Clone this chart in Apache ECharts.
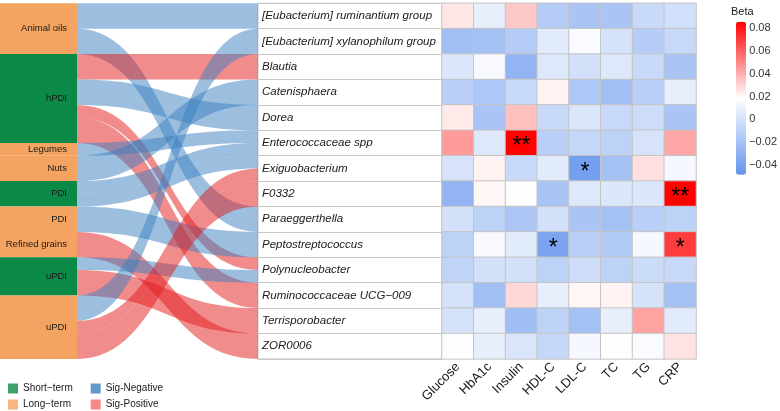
<!DOCTYPE html>
<html><head><meta charset="utf-8">
<script src="https://cdn.jsdelivr.net/npm/echarts@6/dist/echarts.min.js"></script>
<style>html,body{margin:0;padding:0;background:#fff}#c{width:780px;height:411px}</style>
</head><body><div id="c"></div>
<script>
// ---------- data ----------
const dietNames = ['Animal oils','hPDI','Legumes','Nuts','PDI','PDI','Refined grains','uPDI','uPDI'];
const dietTerms = ['Long','Short','Long','Long','Short','Long','Long','Short','Long'];
const bacteria = ['[Eubacterium] ruminantium group','[Eubacterium] xylanophilum group','Blautia','Catenisphaera','Dorea',
  'Enterococcaceae spp','Exiguobacterium','F0332','Paraeggerthella','Peptostreptococcus','Polynucleobacter',
  'Ruminococcaceae UCG\u2212009','Terrisporobacter','ZOR0006'];
const metrics = ['Glucose','HbA1c','Insulin','HDL-C','LDL-C','TC','TG','CRP'];
// links: diet index -> bacterium index
const linkSource = [0, 0, 1, 1, 1,   1, 2,   3, 4,   4,   5, 6, 7,   7, 8, 8,   8];
const linkTarget = [0, 8, 2, 4, 10, 11, 5,   3, 5,   6,   9, 13, 10, 12, 1, 6,  7];
const linkValue  = [1, 1, 1, 1, 0.5, 1, 0.5, 1, 0.5, 0.5, 1, 1, 0.5, 1, 1, 0.5, 1];
const linkSign   = ['neg','neg','pos','neg','pos','pos','neg','neg','neg','neg','neg','pos','neg','pos','neg','pos','pos'];
// beta values: rows = bacteria, cols = metrics
const beta = [
  [ 0.025,  0.008,  0.033, -0.014, -0.019, -0.019, -0.005, -0.002],
  [-0.022, -0.021, -0.014,  0.006,  0.016,  0.000, -0.013, -0.006],
  [ 0.003,  0.015, -0.029,  0.004, -0.001,  0.004, -0.005, -0.019],
  [-0.012, -0.017, -0.006,  0.022, -0.017, -0.022, -0.012,  0.008],
  [ 0.024, -0.019,  0.035, -0.006,  0.003, -0.006, -0.003, -0.019],
  [ 0.045,  0.004,  0.085, -0.012, -0.007, -0.010,  0.001,  0.042],
  [ 0.001,  0.022, -0.006,  0.006, -0.042, -0.020,  0.027,  0.014],
  [-0.029,  0.021,  0.018, -0.019,  0.004,  0.003,  0.003,  0.085],
  [-0.001, -0.010, -0.018, -0.001, -0.019, -0.021, -0.012, -0.010],
  [-0.010,  0.015,  0.006, -0.039, -0.012, -0.015,  0.014,  0.070],
  [-0.009, -0.001, -0.001, -0.010, -0.003, -0.010, -0.004, -0.006],
  [ 0.000, -0.022,  0.029,  0.008,  0.021,  0.022,  0.000, -0.021],
  [ 0.000,  0.008, -0.023, -0.010, -0.021,  0.008,  0.043,  0.006],
  [ 0.017,  0.008,  0.002, -0.007,  0.014,  0.018,  0.016,  0.026]
];
// significance marks: [bacterium index, metric index, text]
const sigMarks = [[5,2,'**'],[6,4,'*'],[7,7,'**'],[9,3,'*'],[9,7,'*']];
const betaMin = -0.0488, betaMax = 0.0858;
const betaTicks = [-0.04,-0.02,0,0.02,0.04,0.06,0.08];
const termLegend = ['Short\u2212term','Long\u2212term'];
const signLegend = ['Sig-Negative','Sig-Positive'];

// ---------- styles ----------
const termColor = {Short:'#0b8a47', Long:'#f4a460'};
const signLinkColor = {neg:'#3a7fc0', pos:'#e31a1c'};
const legendColor = {'Short\u2212term':'#0b8a47','Long\u2212term':'#f4a460','Sig-Negative':'#3a7fc0','Sig-Positive':'#f26b6b'};
const FONT = '"Liberation Sans", Arial, sans-serif';

const nodes = [];
dietNames.forEach((n,i)=>nodes.push({
  name: n + '#' + i,
  itemStyle:{color: termColor[dietTerms[i]], opacity:1},
  label:{show:true, position:'insideRight', distance:10}
}));
bacteria.forEach(b=>nodes.push({name:b, itemStyle:{opacity:0}, label:{show:false}}));
const links = linkSource.map((s,k)=>({
  source: dietNames[s] + '#' + s,
  target: bacteria[linkTarget[k]],
  value: linkValue[k],
  lineStyle:{color: signLinkColor[linkSign[k]], opacity:0.5, curveness:0.5}
}));
const heatData = [];
beta.forEach((row,r)=>row.forEach((v,c)=>heatData.push([c,r,v])));
const markText = {};
sigMarks.forEach(m=>{ markText[m[0]+'_'+m[1]] = m[2]; });

const fmtTick = v => v === 0 ? '0' : (v < 0 ? '\u2212' + Math.abs(v).toFixed(2) : v.toFixed(2));

const chart = echarts.init(document.getElementById('c'), null, {renderer:'canvas'});
const option = {
  animation:false,
  textStyle:{fontFamily:FONT},
  title:{text:'Beta', left:731, top:6, padding:0, textStyle:{fontSize:11, fontWeight:'normal', color:'#1a1a1a', fontFamily:FONT}},
  legend:[
    {data:termLegend, orient:'vertical', left:8, top:383.5, padding:0, itemWidth:10, itemHeight:10, itemGap:6, icon:'rect', selectedMode:false,
     textStyle:{fontSize:10, color:'#1a1a1a', lineHeight:10, fontFamily:FONT}},
    {data:signLegend, orient:'vertical', left:90.7, top:383.5, padding:0, itemWidth:10, itemHeight:10, itemGap:6, icon:'rect', selectedMode:false,
     textStyle:{fontSize:10, color:'#1a1a1a', lineHeight:10, fontFamily:FONT}}
  ],
  grid:[
    {left:442, top:3.3, width:254, height:355.6, show:false},
    {left:258, top:3.3, width:184, height:355.6, show:true, backgroundColor:'#fff', borderColor:'#c8c8c8', borderWidth:1},
    {left:736, top:21.7, width:10, height:153, show:false}
  ],
  xAxis:[
    {gridIndex:0, type:'category', data:metrics, axisLine:{show:false}, axisTick:{show:false},
     axisLabel:{rotate:45, interval:0, fontSize:13, color:'#1a1a1a', margin:6, fontFamily:FONT}},
    {gridIndex:1, type:'category', data:[''], show:false},
    {gridIndex:2, type:'value', show:false}
  ],
  yAxis:[
    {gridIndex:0, type:'category', data:bacteria, inverse:true, axisLine:{show:false}, axisTick:{show:false}, axisLabel:{show:false}},
    {gridIndex:1, type:'category', data:bacteria, inverse:true, axisLine:{show:false}, axisTick:{show:false},
     splitLine:{show:true, lineStyle:{color:'#c8c8c8', width:1}},
     axisLabel:{inside:true, margin:4, fontSize:11.5, fontStyle:'italic', color:'#1a1a1a', fontFamily:FONT}},
    {gridIndex:2, type:'value', min:betaMin, max:betaMax, position:'right', z:10,
     axisLine:{show:false}, splitLine:{show:false},
     axisTick:{show:true, inside:true, length:2, lineStyle:{color:'#ffffff'}, customValues:betaTicks},
     axisLabel:{customValues:betaTicks, formatter:fmtTick, fontSize:11, color:'#333', margin:4, fontFamily:FONT}}
  ],
  visualMap:{
    type:'continuous', seriesIndex:1, min:betaMin, max:betaMax, calculable:false,
    left:736, top:21.7, itemWidth:10, itemHeight:153, padding:0, orient:'vertical',
    inRange:{color:['#6495ED','#ffffff','#ff0000']}, hoverLink:false
  },
  series:[
    {type:'sankey', left:0, top:3.3, width:335, height:355.6, nodeWidth:77, nodeGap:0,
     layoutIterations:0, draggable:false, emphasis:{disabled:true},
     label:{color:'#1a1a1a', fontSize:9.5, fontFamily:FONT, formatter:p=>p.name.split('#')[0]},
     data:nodes, links:links},
    {type:'heatmap', xAxisIndex:0, yAxisIndex:0, data:heatData,
     itemStyle:{borderColor:'#c4c4c4', borderWidth:1},
     label:{show:true, color:'#000', fontSize:23, fontFamily:FONT, offset:[0,4],
            formatter:p=>markText[p.data[1]+'_'+p.data[0]] || ''},
     emphasis:{disabled:true}},
    ...termLegend.concat(signLegend).map(n=>({type:'scatter', name:n, xAxisIndex:2, yAxisIndex:2, data:[], itemStyle:{color:legendColor[n]}}))
  ]
};
chart.setOption(option);
</script>
</body></html>
